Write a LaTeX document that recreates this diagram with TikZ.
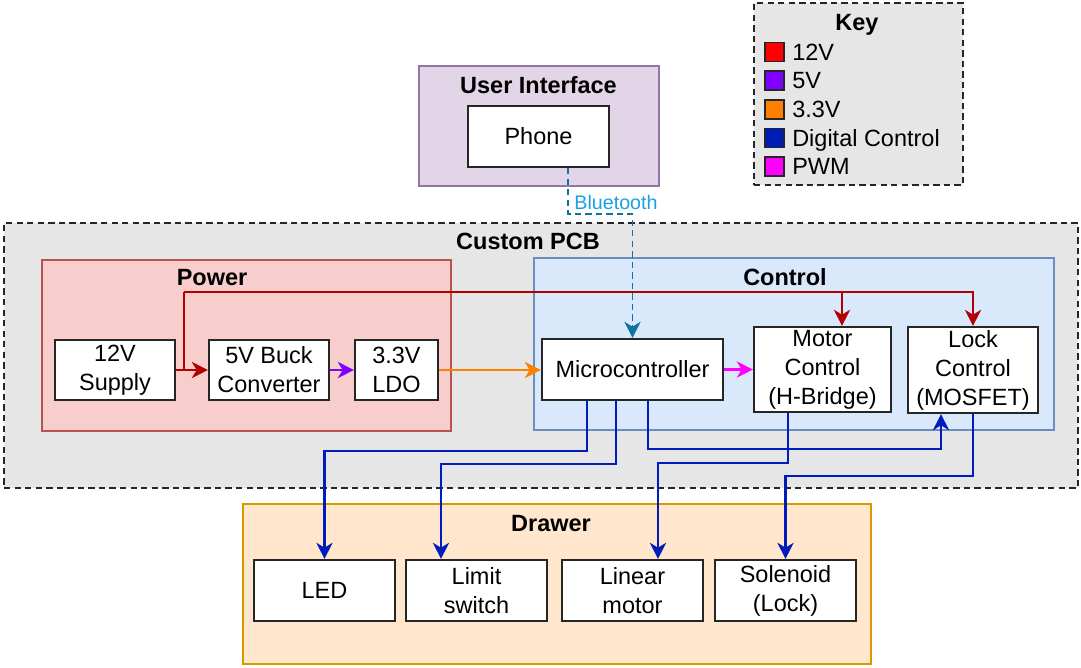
\documentclass[tikz,border=0pt]{standalone}
\usepackage{fontspec}
\setmainfont{Liberation Sans}
\usetikzlibrary{arrows.meta,calc}
\definecolor{pcbfill}{HTML}{E6E6E6}
\definecolor{powfill}{HTML}{F8CECC}\definecolor{powline}{HTML}{B85450}
\definecolor{ctlfill}{HTML}{DAE8FC}\definecolor{ctlline}{HTML}{6C8EBF}
\definecolor{uifill}{HTML}{E1D5E7}\definecolor{uiline}{HTML}{9673A6}
\definecolor{drwfill}{HTML}{FFE6CC}\definecolor{drwline}{HTML}{D79B00}
\definecolor{k12}{HTML}{FF0000}\definecolor{l12}{HTML}{B20000}
\definecolor{k5}{HTML}{7F00FF}
\definecolor{k33}{HTML}{FF8000}
\definecolor{kdig}{HTML}{001DBC}
\definecolor{kpwm}{HTML}{FF00FF}
\definecolor{btline}{HTML}{10739E}\definecolor{bttext}{HTML}{1BA1E2}
\begin{document}
\begin{tikzpicture}[x=0.025cm,y=-0.025cm,
  wh/.style 2 args={minimum width=#1*0.025cm, minimum height=#2*0.025cm},
  txt/.style={font=\fontsize{16.7}{20.6}\selectfont},
  blk/.style={txt, draw=black!85, line width=1.5pt, fill=white, align=center, inner sep=0pt},
  grp/.style={line width=1.1pt, inner sep=0pt},
  dsh/.style={dash pattern=on 4.5pt off 3pt},
  ttl/.style={font=\fontsize{16.7}{20.6}\selectfont\bfseries, inner sep=0pt, text height=12pt, text depth=0pt},
  leg/.style={txt, inner sep=0pt, anchor=west, text height=12pt, text depth=0pt},
  sq/.style={draw=black!85, line width=1.3pt, wh={19}{19}, inner sep=0pt},
  conn/.style={line width=1.5pt, -{Stealth[length=11.5pt,width=11.5pt,inset=3.5pt]}},
  plain/.style={line width=1.5pt}
]
\useasboundingbox (0,0) rectangle (1081,667);

% containers
\node[grp, draw=black!85, dsh, fill=pcbfill, wh={209}{182}] (key) at (858.5,94) {};
\node[grp, draw=uiline, fill=uifill, wh={240}{120}] (ui) at (539,126) {};
\node[grp, draw=black!85, dsh, fill=pcbfill, wh={1074}{265}] (pcb) at (541,355.5) {};
\node[grp, draw=powline, fill=powfill, wh={409}{171}] (power) at (246.5,345.5) {};
\node[grp, draw=ctlline, fill=ctlfill, wh={520}{172}] (control) at (794,344) {};
\node[grp, draw=drwline, fill=drwfill, wh={628}{160}] (drawer) at (557,584) {};

% titles
\node[ttl] (keyt) at (857,22) {Key};
\node[ttl] (uit) at (538.5,85) {User Interface};
\node[ttl] (pcbt) at (528,241) {Custom PCB};
\node[ttl] (powert) at (212,277) {Power};
\node[ttl] (controlt) at (785,277) {Control};
\node[ttl] (drawert) at (551,523) {Drawer};

% legend
\node[sq, fill=k12] (sq12) at (774.5,52) {};
\node[leg] (t12) at (792,52) {12V};
\node[sq, fill=k5] (sq5) at (774.5,80.5) {};
\node[leg] (t5) at (792,80.5) {5V};
\node[sq, fill=k33] (sq33) at (774.5,109.5) {};
\node[leg] (t33) at (792,109.5) {3.3V};
\node[sq, fill=kdig] (sqdig) at (774.5,138) {};
\node[leg] (tdig) at (792,138) {Digital Control};
\node[sq, fill=kpwm] (sqpwm) at (774.5,166.5) {};
\node[leg] (tpwm) at (792,166.5) {PWM};

% blocks
\node[blk, wh={141}{61}] (phone) at (538.5,136.5) {Phone};
\node[blk, wh={120}{60}] (supply) at (115,370) {12V\\Supply};
\node[blk, wh={120}{60}] (buck) at (269,370) {5V Buck\\Converter};
\node[blk, wh={83}{60}] (ldo) at (396.5,370) {3.3V\\LDO};
\node[blk, wh={181}{61}] (micro) at (632.5,369.5) {Microcontroller};
\node[blk, wh={137}{85}] (motor) at (822.5,369.5) {Motor\\Control\\(H-Bridge)};
\node[blk, wh={130}{86}] (lock) at (973,370) {Lock\\Control\\(MOSFET)};
\node[blk, wh={141}{61}] (led) at (324.5,590.5) {LED};
\node[blk, wh={141}{61}] (limit) at (476.5,590.5) {Limit\\switch};
\node[blk, wh={141}{61}] (linear) at (632.5,590.5) {Linear\\motor};
\node[blk, wh={141}{61}] (sol) at (785.5,590.5) {Solenoid\\(Lock)};

% power connectors
\coordinate (rj) at (184,370);
\coordinate (rbus) at (184,292);
\draw[conn, l12] (supply) -- (buck);
\draw[plain, l12] (rj) -- (rbus);
\draw[conn, l12] (rbus) -| ($(motor.north)+(19.5,0)$);
\draw[conn, l12] (rbus) -| (lock.north);
\draw[conn, k5] (buck) -- (ldo);
\draw[conn, k33] (ldo.east) -- (micro.west |- ldo.east);
\draw[conn, kpwm] (micro) -- (motor);

% bluetooth
\draw[conn, btline, line width=1.3pt, dsh] ($(phone.south)+(29.5,0)$) -- ++(0,46) -| (micro.north);
\node[font=\fontsize{14}{16}\selectfont, text=bttext, inner sep=0pt, text height=10pt, text depth=0pt] (btl) at (616,202) {Bluetooth};

% digital control
\draw[conn, kdig] ($(micro.south)+(-45.5,0)$) -- ++(0,50) -| (led.north);
\draw[conn, kdig] ($(micro.south)+(-16.5,0)$) -- ++(0,63) -| ($(limit.north)+(-35.5,0)$);
\draw[conn, kdig] ($(micro.south)+(15.5,0)$) -- ++(0,48) -| ($(lock.south)+(-32,0)$);
\draw[conn, kdig] ($(motor.south)+(-34.5,0)$) -- ++(0,50) -| ($(linear.north)+(25.5,0)$);
\draw[conn, kdig] (lock.south) -- ++(0,62) -| (sol.north);
\end{tikzpicture}
\end{document}
